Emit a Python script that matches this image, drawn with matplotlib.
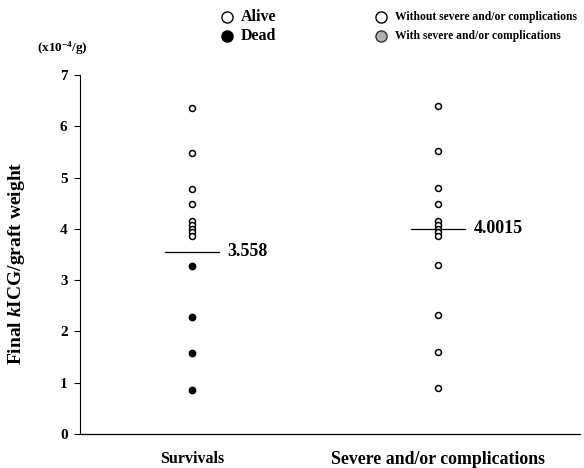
import numpy as np
import matplotlib
matplotlib.use("Agg")
import matplotlib.pyplot as plt

plt.rcParams['font.family'] = ['Liberation Serif', 'DejaVu Serif']
plt.rcParams['font.weight'] = 'bold'
plt.rcParams['mathtext.fontset'] = 'custom'
plt.rcParams['mathtext.rm'] = 'Liberation Serif:bold'
plt.rcParams['mathtext.it'] = 'Liberation Serif:italic:bold'
plt.rcParams['mathtext.bf'] = 'Liberation Serif:bold'

# data (x10^-4/g)
groups = ["Survivals", "Severe and/or complications"]
surv_alive = [6.36, 5.47, 4.77, 4.48, 4.16, 4.08, 4.00, 3.93, 3.86]
surv_dead = [3.28, 2.29, 1.58, 0.86]
comp_without = [6.39, 5.52, 4.80, 4.49, 4.16, 4.08, 4.00, 3.93, 3.86,
                3.30, 2.32, 1.60, 0.89]
comp_with = []
means = [3.558, 4.0015]
mean_labels = ["3.558", "4.0015"]

fig = plt.figure(figsize=(5.84, 4.68), dpi=100)
ax = fig.add_axes([0.137, 0.0726, 0.856, 0.7671])

xpos = [1, 2]
ax.plot([xpos[0]] * len(surv_alive), surv_alive, 'o', mfc='white', mec='black',
        ms=4.3, mew=1.1, clip_on=False)
ax.plot([xpos[0]] * len(surv_dead), surv_dead, 'o', mfc='black', mec='black',
        ms=4.6, mew=1.0, clip_on=False)
ax.plot([xpos[1]] * len(comp_without), comp_without, 'o', mfc='white', mec='black',
        ms=4.3, mew=1.1, clip_on=False)

# mean lines
for x, m, lab in zip(xpos, means, mean_labels):
    ax.plot([x - 0.11, x + 0.11], [m, m], color='black', lw=0.9)
    ax.text(x + 0.145, m, lab, fontsize=13, fontweight='bold', va='center', ha='left')

ax.set_xlim(0.545, 2.577)
ax.set_ylim(0, 7)
ax.set_yticks(range(0, 8))
ax.set_xticks(xpos)
ax.set_xticklabels(groups, fontweight='bold')
xl = ax.get_xticklabels()
xl[0].set_fontsize(11.5)
xl[1].set_fontsize(12.8)
ax.tick_params(axis='x', length=0, pad=12)
ax.tick_params(axis='y', length=4, width=0.8, labelsize=11, pad=5)
for s in ['top', 'right']:
    ax.spines[s].set_visible(False)
ax.spines['left'].set_linewidth(0.8)
ax.spines['bottom'].set_linewidth(0.9)

ax.set_ylabel(r"Final $\mathit{k}$ICG/graft weight", fontsize=14, fontweight='bold')
ax.yaxis.set_label_coords(-0.106, 0.475)
fig.text(0.063, 0.898, r"(x10$^{-4}$/g)", fontsize=9.5, ha='left', va='center')

# legend
leg = [
    (0.389, 0.963, 'white', 'black', "Alive", 11.5),
    (0.389, 0.923, 'black', 'black', "Dead", 11.5),
    (0.652, 0.963, 'white', 'black', "Without severe and/or complications", 8.4),
    (0.652, 0.923, '#b0b0b0', '#333333', "With severe and/or complications", 8.4),
]
for lx, ly, fc, ec, txt, fs in leg:
    fig.lines.append(plt.Line2D([lx], [ly], marker='o', ms=8, mfc=fc, mec=ec, mew=1.0,
                                transform=fig.transFigure, ls='none'))
    fig.text(lx + 0.024, ly, txt, fontsize=fs, ha='left', va='center')

fig.savefig("out.png", dpi=100)
